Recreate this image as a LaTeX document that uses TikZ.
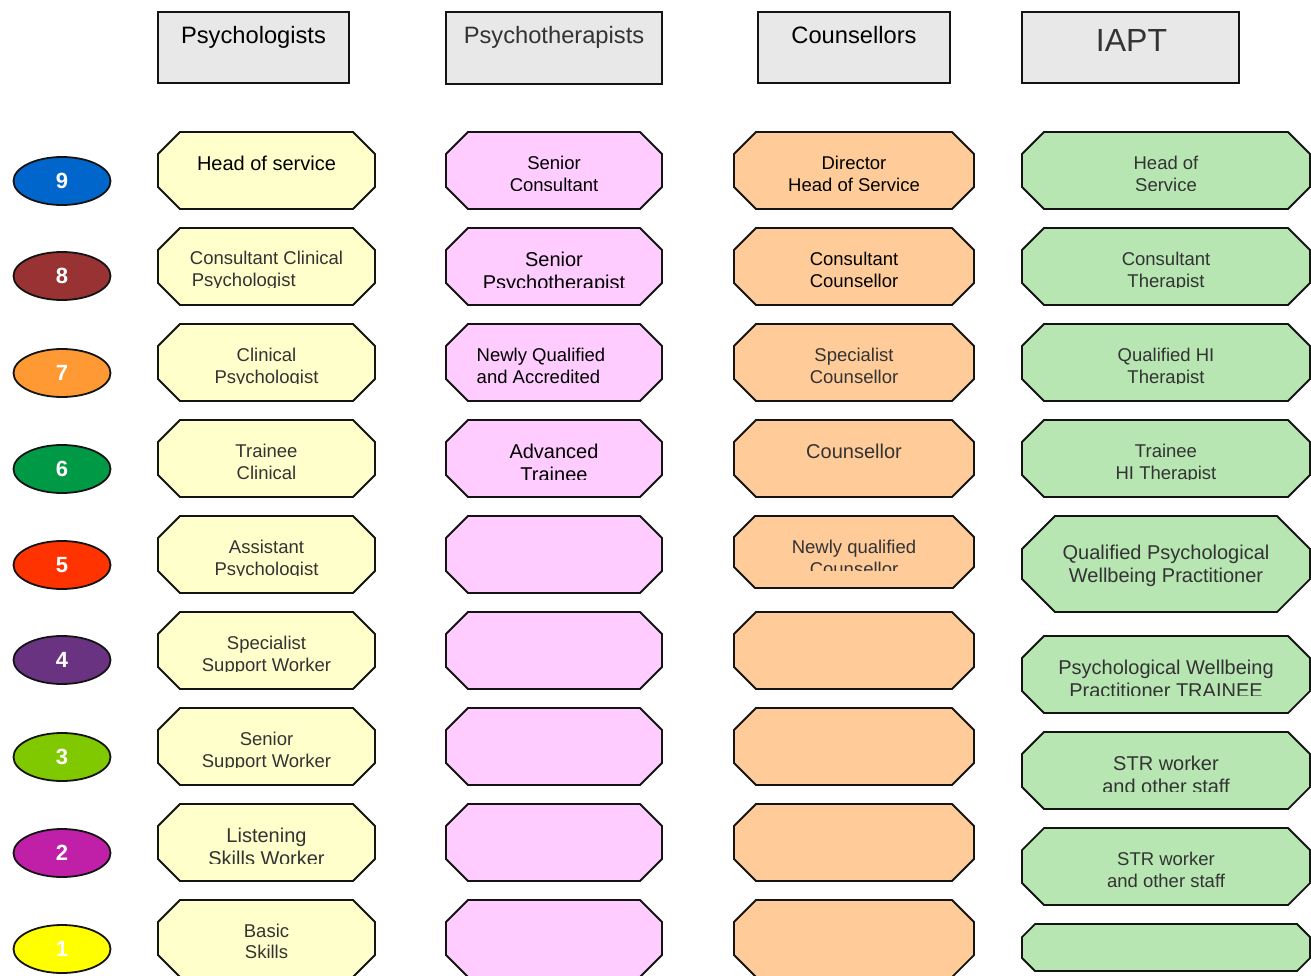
\documentclass[tikz,border=0pt]{standalone}
\usepackage{fontspec}
\setmainfont{Liberation Sans}
\usetikzlibrary{shapes.geometric}
\definecolor{cy}{HTML}{FFFFCC}
\definecolor{cp}{HTML}{FFCCFF}
\definecolor{co}{HTML}{FFCC99}
\definecolor{cg}{HTML}{B7E6B2}
\definecolor{ch}{HTML}{E8E8E8}
\definecolor{tg}{HTML}{333333}
\definecolor{lk}{HTML}{141414}
\definecolor{n9}{HTML}{0066CC}
\definecolor{n8}{HTML}{993333}
\definecolor{n7}{HTML}{FF9933}
\definecolor{n6}{HTML}{009A46}
\definecolor{n5}{HTML}{FF3300}
\definecolor{n4}{HTML}{6A3382}
\definecolor{n3}{HTML}{80C800}
\definecolor{n2}{HTML}{C020A8}
\definecolor{n1}{HTML}{FFFF00}
\newcommand{\fz}[2]{\fontsize{#1pt}{#2pt}\selectfont}
\def\clipoff{18}
% name, x1, y1, x2, y2, chamfer, fill, text options, text
\newcommand{\octo}[9]{%
  \path[octline, fill=#7] (#2+#6,#3) -- (#4-#6,#3) -- (#4,#3+#6) -- (#4,#5-#6)
     -- (#4-#6,#5) -- (#2+#6,#5) -- (#2,#5-#6) -- (#2,#3+#6) -- cycle;
  \node[inner sep=0pt, minimum width={#4-#2}, minimum height={#5-#3}] (#1)
     at ({(#2+#4)/2},{(#3+#5)/2}) {};
  \begin{scope}
    \clip (#2,#3) rectangle (#4,#5-\clipoff);
    \node[lbl, anchor=north, #8] (#1t) at ({(#2+#4)/2},#3) {\rule{0pt}{16pt}#9};
  \end{scope}%
}
\begin{document}
\begin{tikzpicture}[x=1pt,y=-1pt,
  octline/.style={draw=lk, line width=1.8pt, line join=miter},
  lbl/.style={inner sep=0pt, align=center, text=tg, font=\fz{18.5}{22.5}},
  big/.style={font=\fz{20}{23}},
  blk/.style={text=black},
  b37/.style={yshift=-21pt},
  b38/.style={yshift=-22pt},
  b39/.style={yshift=-23pt},
  b43/.style={yshift=-27pt},
  hdr/.style={draw=lk, line width=2pt, fill=ch, inner sep=0pt},
  htxt/.style={anchor=base, inner sep=0pt, font=\fz{23.7}{28}},
  ell/.style={ellipse, draw=lk, line width=1.8pt, minimum width=97pt, minimum height=48pt,
     inner sep=0pt, text=white, font=\fz{22}{26}\bfseries}]
\clip (0,0) rectangle (1311,976);
\fill[white] (0,0) rectangle (1311,976);

% headers
\node[hdr, minimum width=191pt, minimum height=71pt] (h1) at (253.5,47.5) {};
\node[htxt, text=black] (h1t) at (253.5,43.5) {Psychologists};
\node[hdr, minimum width=216pt, minimum height=72pt] (h2) at (554,48) {};
\node[htxt, text=tg] (h2t) at (554,43.5) {Psychotherapists};
\node[hdr, minimum width=192pt, minimum height=71pt] (h3) at (854,47.5) {};
\node[htxt, text=black] (h3t) at (854,43.5) {Counsellors};
\node[hdr, minimum width=217pt, minimum height=71pt] (h4) at (1130.5,47.5) {};
\node[htxt, text=tg, font=\fz{32}{38}] (h4t) at (1131.5,52) {IAPT};

% level ellipses
\node[ell, fill=n9] (e9) at (62,181) {\raisebox{-2pt}{9}};
\node[ell, fill=n8] (e8) at (62,276) {\raisebox{-2pt}{8}};
\node[ell, fill=n7] (e7) at (62,373) {\raisebox{-2pt}{7}};
\node[ell, fill=n6] (e6) at (62,469) {\raisebox{-2pt}{6}};
\node[ell, fill=n5] (e5) at (62,565) {\raisebox{-2pt}{5}};
\node[ell, fill=n4] (e4) at (62,660) {\raisebox{-2pt}{4}};
\node[ell, fill=n3] (e3) at (62,757) {\raisebox{-2pt}{3}};
\node[ell, fill=n2] (e2) at (62,853) {\raisebox{-2pt}{2}};
\node[ell, fill=n1] (e1) at (62,949) {\raisebox{-2pt}{1}};

% Psychologists column
\octo{y9}{158}{132}{375}{209}{22}{cy}{b38,big,blk}{Head of service}
\octo{y8}{158}{228}{375}{305}{22}{cy}{align=left,yshift=-20pt}{Consultant Clinical\\\hspace*{2pt}Psychologist}
\octo{y7}{158}{324}{375}{401}{22}{cy}{b37}{Clinical\\Psychologist}
\octo{y6}{158}{420}{375}{497}{22}{cy}{b37}{Trainee\\Clinical}
\octo{y5}{158}{516}{375}{593}{22}{cy}{b37}{Assistant\\Psychologist}
\octo{y4}{158}{612}{375}{689}{22}{cy}{b37}{Specialist\\Support Worker}
\octo{y3}{158}{708}{375}{785}{22}{cy}{b37}{Senior\\Support Worker}
\octo{y2}{158}{804}{375}{881}{22}{cy}{b38,big}{Listening\\Skills Worker}
\octo{y1}{158}{900}{375}{977}{22}{cy}{b37,font=\fz{18.5}{21}}{Basic\\Skills}

% Psychotherapists column
\octo{p9}{446}{132}{662}{209}{22}{cp}{b37,blk}{Senior\\Consultant}
\octo{p8}{446}{228}{662}{305}{22}{cp}{b38,big,blk}{Senior\\Psychotherapist}
\octo{p7}{446}{324}{662}{401}{22}{cp}{b37,blk,align=left,xshift=-13pt}{Newly Qualified\\and Accredited}
\octo{p6}{446}{420}{662}{497}{22}{cp}{b38,big,blk}{Advanced\\Trainee}
\octo{p5}{446}{516}{662}{593}{22}{cp}{b37}{}
\octo{p4}{446}{612}{662}{689}{22}{cp}{b37}{}
\octo{p3}{446}{708}{662}{785}{22}{cp}{b37}{}
\octo{p2}{446}{804}{662}{881}{22}{cp}{b37}{}
\octo{p1}{446}{900}{662}{977}{22}{cp}{b37}{}

% Counsellors column
\octo{o9}{734}{132}{974}{209}{22}{co}{b37,blk}{Director\\Head of Service}
\octo{o8}{734}{228}{974}{305}{22}{co}{b37,blk}{Consultant\\Counsellor}
\octo{o7}{734}{324}{974}{401}{22}{co}{b37}{Specialist\\Counsellor}
\octo{o6}{734}{420}{974}{497}{22}{co}{b38,big}{Counsellor}
\octo{o5}{734}{516}{974}{588}{21}{co}{b37}{Newly qualified\\Counsellor}
\octo{o4}{734}{612}{974}{689}{22}{co}{b37}{}
\octo{o3}{734}{708}{974}{785}{22}{co}{b37}{}
\octo{o2}{734}{804}{974}{881}{22}{co}{b37}{}
\octo{o1}{734}{900}{974}{977}{22}{co}{b37}{}

% IAPT column
\octo{g9}{1022}{132}{1310}{209}{22}{cg}{b37}{Head of\\Service}
\octo{g8}{1022}{228}{1310}{305}{22}{cg}{b37}{Consultant\\Therapist}
\octo{g7}{1022}{324}{1310}{401}{22}{cg}{b37}{Qualified HI\\Therapist}
\octo{g6}{1022}{420}{1310}{497}{22}{cg}{b37}{Trainee\\HI Therapist}
\octo{g5}{1022}{516}{1310}{612}{33}{cg}{b43,big}{Qualified Psychological\\Wellbeing Practitioner}
\octo{g4}{1022}{636}{1310}{713}{22}{cg}{b38,big}{Psychological Wellbeing\\Practitioner TRAINEE}
\octo{g3}{1022}{732}{1310}{809}{22}{cg}{b38,big}{STR worker\\and other staff}
\def\clipoff{8}
\octo{g2}{1022}{828}{1310}{905}{22}{cg}{b37,font=\fz{18.5}{22}}{STR worker\\and other staff}
\def\clipoff{18}
\octo{g1}{1022}{924}{1310}{971}{13}{cg}{b37}{}
\end{tikzpicture}
\end{document}
